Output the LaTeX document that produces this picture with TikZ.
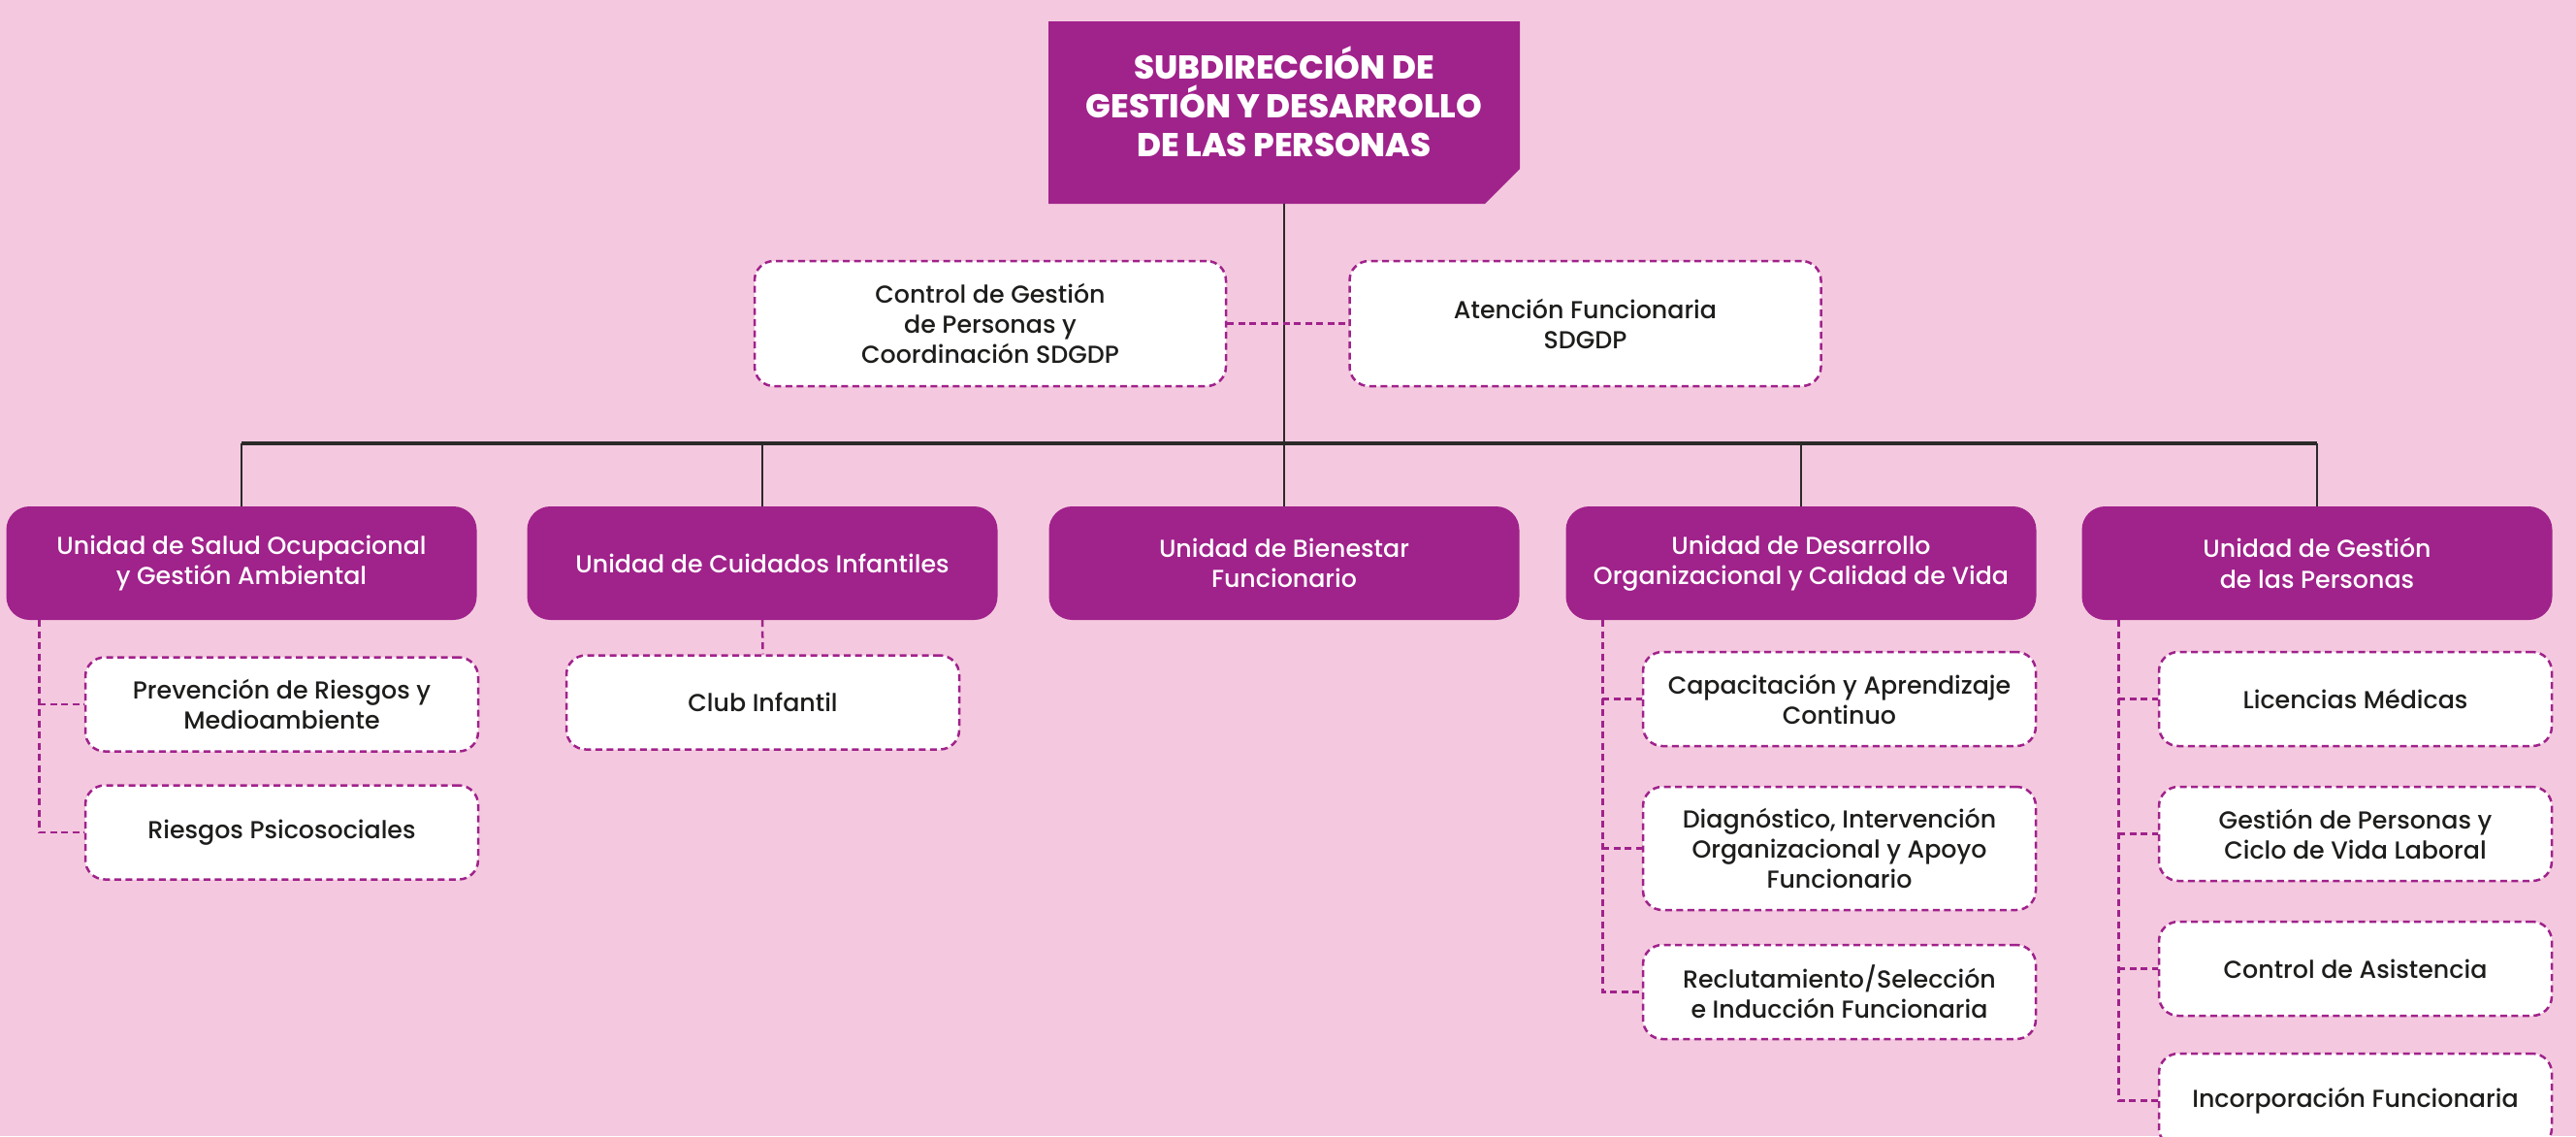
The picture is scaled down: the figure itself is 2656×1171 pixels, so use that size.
\documentclass[tikz,border=0pt]{standalone}
\usepackage{fontspec}
\setmainfont{Poppins}[UprightFont={* Medium}, BoldFont={* ExtraBold}]
\usetikzlibrary{shapes.misc,calc}
\definecolor{bgpink}{HTML}{F4C9DF}
\definecolor{plum}{HTML}{A0228B}
\definecolor{ink}{HTML}{1D1D1B}
\definecolor{linegray}{HTML}{2B2A29}
\begin{document}
\begin{tikzpicture}[x=1pt,y=-1pt,
  unitbox/.style={rectangle, rounded corners=24pt, fill=plum, text=white,
    minimum width=485pt, minimum height=117pt, align=center, inner sep=0pt,
    font=\fontsize{25.3}{31.5}\selectfont},
  subbox/.style={rectangle, rounded corners=20pt, fill=white, draw=plum,
    line width=2.5pt, dash pattern=on 7pt off 4.5pt, text=ink,
    minimum width=405pt, minimum height=97pt, align=center, inner sep=0pt,
    font=\fontsize{25.3}{31}\selectfont},
  dashlink/.style={draw=plum, line width=2.5pt, dash pattern=on 7pt off 4.5pt},
  solidlink/.style={draw=linegray, line width=2.5pt},
  barline/.style={draw=linegray, line width=4pt},
]
\useasboundingbox (0,0) rectangle (2656,1171);
\clip (0,0) rectangle (2656,1171);
\fill[bgpink] (0,0) rectangle (2656,1171);

% title
\node[chamfered rectangle, chamfered rectangle corners=south east,
  chamfered rectangle sep=18pt, fill=plum, minimum width=486pt,
  minimum height=188pt, inner sep=0pt, text=white, align=center,
  text depth=22pt,
  font=\fontsize{34}{40}\selectfont\bfseries] (title) at (1324,116)
  {SUBDIRECCIÓN DE\\GESTIÓN Y DESARROLLO\\DE LAS PERSONAS};

% staff boxes
\node[subbox, minimum width=486pt, minimum height=129pt] (ctrl) at (1021,333.5)
  {Control de Gestión\\de Personas y\\Coordinación SDGDP};
\node[subbox, minimum width=486pt, minimum height=129pt] (aten) at (1634.5,333.5)
  {Atención Funcionaria\\SDGDP};

% units
\node[unitbox] (u1) at (249,580.5) {Unidad de Salud Ocupacional\\y Gestión Ambiental};
\node[unitbox] (u2) at (786,580.5) {Unidad de Cuidados Infantiles};
\node[unitbox] (u3) at (1324,580.5) {Unidad de Bienestar\\Funcionario};
\node[unitbox] (u4) at (1857,580.5) {Unidad de Desarrollo\\Organizacional y Calidad de Vida};
\node[unitbox] (u5) at (2389,580.5) {Unidad de Gestión\\de las Personas};

% sub boxes
\node[subbox] (s1a) at (290.5,726) {Prevención de Riesgos y\\Medioambiente};
\node[subbox] (s1b) at (290.5,858) {Riesgos Psicosociales};
\node[subbox] (s2a) at (786.5,724) {Club Infantil};
\node[subbox] (s4a) at (1896.5,720.5) {Capacitación y Aprendizaje\\Continuo};
\node[subbox, minimum height=127pt] (s4b) at (1896.5,874.5) {Diagnóstico, Intervención\\Organizacional y Apoyo\\Funcionario};
\node[subbox] (s4c) at (1896.5,1022.5) {Reclutamiento/Selección\\e Inducción Funcionaria};
\node[subbox] (s5a) at (2428.5,720.5) {Licencias Médicas};
\node[subbox] (s5b) at (2428.5,859.5) {Gestión de Personas y\\Ciclo de Vida Laboral};
\node[subbox] (s5c) at (2428.5,998.5) {Control de Asistencia};
\node[subbox] (s5d) at (2428.5,1134.5) {Incorporación Funcionaria};

% solid hierarchy
\coordinate (barY) at (0,457);
\draw[solidlink] (title.south) -- (u3.north);
\draw[barline] (u1.north |- barY) -- (u5.north |- barY);
\foreach \u in {u1,u2,u4,u5} {
  \draw[solidlink] (\u.north |- barY) -- (\u.north);
}

% dashed links
\draw[dashlink] (ctrl.east) -- (aten.west);
\draw[dashlink] (u2.south) -- (s2a.north);

\coordinate (t1) at ($(u1.south west)+(34,0)$);
\draw[dashlink] (t1) |- (s1b.west);
\draw[dashlink] (t1 |- s1a.west) -- (s1a.west);

\coordinate (t4) at ($(u4.south west)+(38,0)$);
\draw[dashlink] (t4) |- (s4c.west);
\draw[dashlink] (t4 |- s4a.west) -- (s4a.west);
\draw[dashlink] (t4 |- s4b.west) -- (s4b.west);

\coordinate (t5) at ($(u5.south west)+(38,0)$);
\draw[dashlink] (t5) |- (s5d.west);
\draw[dashlink] (t5 |- s5a.west) -- (s5a.west);
\draw[dashlink] (t5 |- s5b.west) -- (s5b.west);
\draw[dashlink] (t5 |- s5c.west) -- (s5c.west);
\end{tikzpicture}
\end{document}
